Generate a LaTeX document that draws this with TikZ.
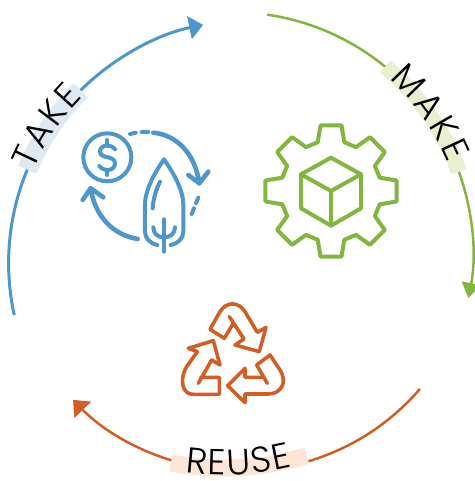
\documentclass[tikz,border=0pt]{standalone}
\usepackage{fontspec}
\newfontfamily\labelfont{Poppins Light}
\newcommand{\ringfont}{\labelfont\fontsize{36}{38}\selectfont}
\usetikzlibrary{arrows.meta,decorations.text}
\definecolor{takeblue}{HTML}{4F97C9}
\definecolor{makegreen}{HTML}{82B541}
\definecolor{reusered}{HTML}{D05F27}
\definecolor{takeband}{HTML}{DEE9F3}
\definecolor{makeband}{HTML}{E9F0CF}
\definecolor{reuseband}{HTML}{FDE6D5}
\tikzset{>={Triangle[length=14pt,width=23pt]}}
\tikzset{
  ring/.style={->,line width=2.5pt},
  icon/.style={line width=4pt,line join=round,line cap=round},
  ringlabel/.style={decorate,decoration={text along path,text align=fit to path,
      text={|\ringfont|#1}}}
}
\begin{document}
\begin{tikzpicture}[x=1pt,y=1pt]
  \useasboundingbox (0,0) rectangle (474,481);
  \coordinate (takec) at (251.6,218);
  \coordinate (makec) at (232.8,228.8);
  \coordinate (reusec) at (241.5,245);
  \coordinate (bandc) at (224,296);
  % take ring
  \draw[ring,takeblue,line width=3pt] (takec) ++(192.4:243) arc (192.4:101.5:243pt);
  \draw[takeband,line width=20pt] (takec) ++(157.4:243) arc (157.4:134.7:243pt);
  \path[ringlabel=TAKE] (takec) ++(157:237) arc (157:135.5:237pt);
  % make ring
  \draw[ring,makegreen,>={Triangle[length=15pt,width=19pt]}] (makec) ++(81.8:240) arc (81.8:-11:240pt);
  \draw[makeband,line width=16pt] (makec) ++(50.6:240) arc (50.6:19.6:240pt);
  \path[ringlabel=MAKE] (makec) ++(48:233) arc (48:22.5:233pt);
  % reuse ring
  \draw[ring,reusered] (reusec) ++(-40.6:235) arc (-40.6:-135.8:235pt);
  \draw[reuseband,line width=17pt] (bandc) ++(-100.8:283) arc (-100.8:-73:283pt);
  \path[ringlabel=REUSE] (bandc) ++(-97.7:290) arc (-97.7:-76.3:290pt);
  % gear
  \begin{scope}[shift={(331,290)},makegreen,icon]
    \draw (90+15.3:50.5)
      \foreach \a in {90,45,0,-45,-90,-135,-180,-225} {
        -- (\a+15.3:50.5) -- (\a+9.1:66.4) -- (\a-9.1:66.4) -- (\a-15.3:50.5)
      } -- cycle;
    \draw (0,33.3) -- (30,16.7) -- (30,-17.3) -- (0,-34.7) -- (-30,-17.3) -- (-30,16.7) -- cycle;
    \draw (-30,16.7) -- (0,0) -- (30,16.7) (0,0) -- (0,-34.7);
  \end{scope}
  % recycle arrows, units of the zoomed crop
  \begin{scope}[shift={(170,186)},x=0.3333pt,y=-0.3333pt,reusered,icon,line width=3.6pt]
    \draw (178,65) -- (222,132) -- (195,150) -- (268,170) -- (288,97) -- (262,112) -- (225,50)
      .. controls (205,18) and (168,20) .. (150,50) -- (120,103) -- (163,130) -- (190,85);
    \draw (85,265) -- (125,195) -- (150,210) -- (130,137) -- (55,160) -- (82,170) -- (50,215)
      .. controls (25,258) and (40,300) .. (70,298) -- (148,298) -- (148,247) -- (92,247);
    \draw (292,265) -- (260,210) -- (300,180) -- (330,225)
      .. controls (355,265) and (330,297) .. (295,297) -- (225,297) -- (225,323) -- (173,272)
      -- (225,220) -- (225,247) -- (280,247);
  \end{scope}
  % coin and leaf
  \begin{scope}[shift={(70,361)},x=0.3333pt,y=-0.3333pt,takeblue,icon]
    \draw (112,112) circle (24pt);
    \draw (135,88) .. controls (125,72) and (90,72) .. (90,95)
      .. controls (90,118) and (135,105) .. (135,130)
      .. controls (135,155) and (100,155) .. (88,138);
    \draw (112,60) -- (112,75) (112,150) -- (112,165);
    \draw (180,42) -- (197,38) (215,36) -- (235,36);
    \draw[line width=4.6pt] (250,38) .. controls (320,45) and (375,100) .. (388,190);
    \draw[line width=4.6pt] (355,165) -- (388,190) -- (415,155);
    \draw (385,233) -- (378,250) (372,265) -- (365,282);
    \draw[line width=4.6pt] (62,205) .. controls (75,290) and (130,345) .. (203,357);
    \draw[line width=4.6pt] (38,240) -- (62,205) -- (100,232);
    \draw (262,375) .. controls (240,370) and (225,355) .. (225,335) -- (225,255)
      .. controls (225,205) and (260,150) .. (282,118)
      .. controls (304,150) and (340,205) .. (340,255) -- (340,335)
      .. controls (340,355) and (325,370) .. (302,375);
    \draw (282,298) -- (282,395);
    \draw (250,322) .. controls (250,340) and (262,352) .. (282,352)
      .. controls (302,352) and (315,340) .. (315,322);
    \draw (270,185) .. controls (258,210) and (250,235) .. (248,265);
  \end{scope}
\end{tikzpicture}
\end{document}
